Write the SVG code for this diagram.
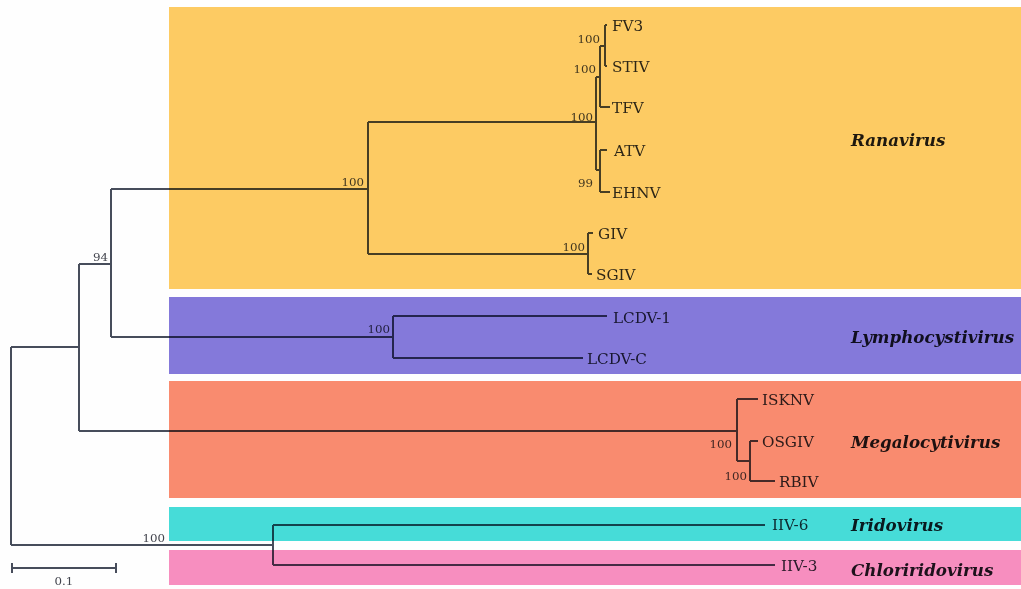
<svg xmlns="http://www.w3.org/2000/svg" width="1021" height="589" viewBox="0 0 1021 589">
<style>
.br{fill:none;stroke:#474d5b;stroke-width:2}
.leaf{font-family:"DejaVu Serif","Liberation Serif",serif;font-size:15.2px;fill:#2e3038}
.bs{font-family:"DejaVu Serif","Liberation Serif",serif;font-size:11.8px;fill:#44464f;text-anchor:end}
.gen{font-family:"DejaVu Serif","Liberation Serif",serif;font-size:16.7px;font-weight:bold;font-style:italic;fill:#1e1e24}
.tree{mix-blend-mode:multiply}
</style>
<rect width="1021" height="589" fill="#fefefe"/>
<g id="bands">
<rect x="169" y="7" width="852" height="282" fill="#fdcb63"/>
<rect x="169" y="297" width="852" height="77" fill="#8479da"/>
<rect x="169" y="381" width="852" height="117" fill="#f98b6f"/>
<rect x="169" y="507" width="852" height="34" fill="#46dcd8"/>
<rect x="169" y="550" width="852" height="35" fill="#f78ebf"/>
</g>
<g class="tree">
<g id="connectors" class="br">
<path d="M11,347 V545 M11,347 H79 M11,545 H273"/>
<path d="M79,264 V431 M79,264 H111 M79,431 H737"/>
<path d="M111,189 V337 M111,189 H368 M111,337 H393"/>
<path d="M368,122 V254 M368,122 H596 M368,254 H588"/>
<path d="M596,77 V170 M596,77 H600 M596,170 H600"/>
<path d="M600,46 V107 M600,46 H605 M600,107 H610"/>
<path d="M605,25 V66 M605,25 H607 M605,66 H607"/>
<path d="M600,150 V192 M600,150 H607 M600,192 H610"/>
<path d="M588,233 V274 M588,233 H593 M588,274 H592"/>
<path d="M393,316 V358 M393,316 H607 M393,358 H583"/>
<path d="M737,399 V461 M737,399 H758 M737,461 H750"/>
<path d="M750,441 V481 M750,441 H758 M750,481 H775"/>
<path d="M273,525 V565 M273,525 H765 M273,565 H775"/>
</g>
<g id="leaf-FV3"><text class="leaf" x="612" y="31">FV3</text></g>
<g id="leaf-STIV"><text class="leaf" x="612" y="72">STIV</text></g>
<g id="leaf-TFV"><text class="leaf" x="612" y="113">TFV</text></g>
<g id="leaf-ATV"><text class="leaf" x="614" y="156">ATV</text></g>
<g id="leaf-EHNV"><text class="leaf" x="612" y="198">EHNV</text></g>
<g id="leaf-GIV"><text class="leaf" x="598" y="239">GIV</text></g>
<g id="leaf-SGIV"><text class="leaf" x="596" y="280">SGIV</text></g>
<g id="leaf-LCDV-1"><text class="leaf" x="613" y="323">LCDV-1</text></g>
<g id="leaf-LCDV-C"><text class="leaf" x="587" y="364">LCDV-C</text></g>
<g id="leaf-ISKNV"><text class="leaf" x="762" y="405">ISKNV</text></g>
<g id="leaf-OSGIV"><text class="leaf" x="762" y="447">OSGIV</text></g>
<g id="leaf-RBIV"><text class="leaf" x="779" y="487">RBIV</text></g>
<g id="leaf-IIV-6"><text class="leaf" x="772" y="530">IIV-6</text></g>
<g id="leaf-IIV-3"><text class="leaf" x="781" y="571">IIV-3</text></g>
<g id="bootstrap">
<text class="bs" x="600" y="43">100</text>
<text class="bs" x="596" y="73">100</text>
<text class="bs" x="593" y="121">100</text>
<text class="bs" x="593" y="187">99</text>
<text class="bs" x="585" y="251">100</text>
<text class="bs" x="364" y="186">100</text>
<text class="bs" x="108" y="261">94</text>
<text class="bs" x="390" y="333">100</text>
<text class="bs" x="732" y="448">100</text>
<text class="bs" x="747" y="480">100</text>
<text class="bs" x="165" y="542">100</text>
</g>
<g id="genus-Ranavirus"><text class="gen" x="851" y="146">Ranavirus</text></g>
<g id="genus-Lymphocystivirus"><text class="gen" x="851" y="343">Lymphocystivirus</text></g>
<g id="genus-Megalocytivirus"><text class="gen" x="851" y="448">Megalocytivirus</text></g>
<g id="genus-Iridovirus"><text class="gen" x="851" y="531">Iridovirus</text></g>
<g id="genus-Chloriridovirus"><text class="gen" x="851" y="576">Chloriridovirus</text></g>
</g>
<g id="scale-bar">
<path class="br" d="M12,568 H116 M12,563 V573 M116,563 V573"/>
<text class="bs" x="64" y="585" style="text-anchor:middle">0.1</text>
</g>
</svg>
